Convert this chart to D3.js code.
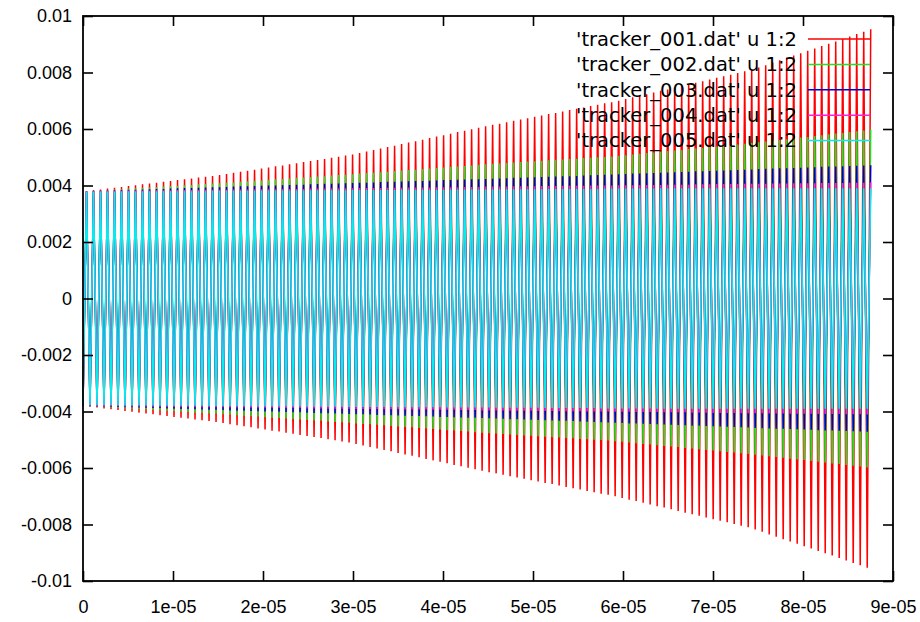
<!DOCTYPE html>
<html>
<head>
<meta charset="utf-8">
<script src="https://cdn.jsdelivr.net/npm/d3@7/dist/d3.min.js"></script>
<style>
  body { margin: 0; background: #fff; }
  .tick text { font-family: "Liberation Sans", Arial, sans-serif; font-size: 18px; fill: #000; }
  .legend text { font-family: "DejaVu Sans", sans-serif; font-size: 19.5px; fill: #000; }
</style>
</head>
<body>
<div id="chart"></div>
<script>
// peak amplitude of every oscillation cycle (units of 1e-4)
var amp001 = [
  38.0,38.3,38.6,38.9,39.2,39.5,39.8,40.1,40.4,40.7,41.0,41.3,41.6,41.9,42.2,42.5,42.8,43.1,43.4,43.7,
  44.1,44.5,44.9,45.2,45.6,46.0,46.4,46.8,47.1,47.5,47.9,48.3,48.7,49.0,49.4,49.8,50.2,50.6,51.0,
  51.5,52.0,52.6,53.1,53.6,54.1,54.7,55.2,55.7,56.2,56.8,57.3,57.8,58.3,58.9,59.4,59.9,60.4,61.0,
  61.5,61.9,62.4,62.9,63.4,63.8,64.3,64.8,65.3,65.7,66.2,66.7,67.2,67.6,68.1,68.6,69.1,69.5,70.0,
  70.6,71.2,71.7,72.3,72.9,73.5,74.0,74.6,75.2,75.8,76.4,76.9,77.5,78.1,78.7,79.2,79.8,80.4,81.0,
  81.8,82.6,83.5,84.3,85.2,86.0,86.8,87.7,88.5,89.4,90.2,91.0,91.9,92.7,93.6,94.4,95.3
];
var amp002 = [
  38.0,38.1,38.3,38.4,38.6,38.7,38.9,39.0,39.2,39.3,39.5,39.6,39.8,39.9,40.1,40.2,40.4,40.5,40.7,40.8,
  41.0,41.1,41.3,41.5,41.7,41.8,42.0,42.2,42.3,42.5,42.7,42.8,43.0,43.2,43.3,43.5,43.7,43.8,44.0,
  44.2,44.4,44.5,44.7,44.9,45.1,45.3,45.5,45.6,45.8,46.0,46.2,46.4,46.6,46.7,46.9,47.1,47.3,47.5,
  47.7,47.8,48.0,48.1,48.3,48.5,48.6,48.8,48.9,49.1,49.2,49.4,49.5,49.7,49.8,50.0,50.1,50.3,50.5,
  50.7,51.0,51.2,51.5,51.7,51.9,52.2,52.4,52.6,52.9,53.1,53.4,53.6,53.8,54.1,54.3,54.5,54.8,55.0,
  55.3,55.6,55.8,56.1,56.4,56.7,57.0,57.2,57.5,57.8,58.1,58.4,58.6,58.9,59.2,59.5,59.8
];
var amp003 = [
  38.0,38.1,38.2,38.2,38.3,38.4,38.5,38.5,38.6,38.7,38.8,38.8,38.9,39.0,39.1,39.1,39.2,39.3,39.4,39.4,
  39.5,39.6,39.7,39.7,39.8,39.9,40.0,40.0,40.1,40.2,40.3,40.3,40.4,40.5,40.6,40.6,40.7,40.8,40.9,
  41.0,41.0,41.1,41.2,41.3,41.3,41.4,41.5,41.6,41.6,41.7,41.8,41.9,41.9,42.0,42.1,42.2,42.2,42.3,
  42.4,42.5,42.6,42.7,42.7,42.8,42.9,43.0,43.1,43.2,43.3,43.3,43.4,43.5,43.6,43.7,43.8,43.9,44.0,
  44.1,44.2,44.2,44.3,44.4,44.5,44.6,44.7,44.8,44.9,45.0,45.0,45.1,45.2,45.3,45.4,45.5,45.6,45.7,
  45.8,45.9,46.0,46.1,46.1,46.2,46.3,46.4,46.5,46.6,46.7,46.7,46.8,46.9,47.0,47.1,47.2
];
var amp004 = [
  38.0,38.0,38.1,38.1,38.1,38.1,38.2,38.2,38.2,38.2,38.3,38.3,38.3,38.4,38.4,38.4,38.4,38.5,38.5,38.5,
  38.5,38.6,38.6,38.6,38.7,38.7,38.7,38.7,38.8,38.8,38.8,38.8,38.9,38.9,38.9,39.0,39.0,39.0,39.0,
  39.1,39.1,39.1,39.1,39.2,39.2,39.2,39.3,39.3,39.3,39.3,39.4,39.4,39.4,39.4,39.5,39.5,39.5,39.6,
  39.6,39.6,39.6,39.7,39.7,39.7,39.7,39.8,39.8,39.8,39.9,39.9,39.9,39.9,40.0,40.0,40.0,40.0,40.1,
  40.1,40.1,40.2,40.2,40.2,40.2,40.3,40.3,40.3,40.3,40.4,40.4,40.4,40.5,40.5,40.5,40.5,40.6,40.6,
  40.6,40.6,40.7,40.7,40.7,40.8,40.8,40.8,40.8,40.9,40.9,40.9,40.9,41.0,41.0,41.0,41.1
];
var amp005 = [
  37.8,37.8,37.8,37.8,37.8,37.9,37.9,37.9,37.9,37.9,37.9,38.0,38.0,38.0,38.0,38.0,38.0,38.0,38.1,38.1,
  38.1,38.1,38.1,38.1,38.1,38.2,38.2,38.2,38.2,38.2,38.2,38.2,38.3,38.3,38.3,38.3,38.3,38.3,38.4,
  38.4,38.4,38.4,38.4,38.4,38.4,38.5,38.5,38.5,38.5,38.5,38.5,38.5,38.6,38.6,38.6,38.6,38.6,38.6,
  38.6,38.7,38.7,38.7,38.7,38.7,38.7,38.7,38.8,38.8,38.8,38.8,38.8,38.8,38.8,38.8,38.9,38.9,38.9,
  38.9,38.9,38.9,38.9,38.9,39.0,39.0,39.0,39.0,39.0,39.0,39.0,39.0,39.0,39.0,39.0,39.0,39.0,39.0,
  39.0,39.0,39.0,39.0,39.0,39.0,39.0,39.0,39.0,39.0,39.0,39.0,39.0,39.0,39.0,39.0,39.0
];
var ampUnit = 1e-4;

// one oscillation period in seconds (stripe spacing on the time axis)
var period = 7.78e-7;

var seriesNames = [
  "'tracker_001.dat' u 1:2",
  "'tracker_002.dat' u 1:2",
  "'tracker_003.dat' u 1:2",
  "'tracker_004.dat' u 1:2",
  "'tracker_005.dat' u 1:2"
];
var seriesAmps = [amp001, amp002, amp003, amp004, amp005];
var seriesColors = ["#ff0000", "#22e022", "#0000d0", "#ff20d0", "#00f0f0"];

var xTicks = [0, 1e-5, 2e-5, 3e-5, 4e-5, 5e-5, 6e-5, 7e-5, 8e-5, 9e-5];
var xTickLabels = ["0", "1e-05", "2e-05", "3e-05", "4e-05", "5e-05", "6e-05", "7e-05", "8e-05", "9e-05"];
var yTicks = [-0.01, -0.008, -0.006, -0.004, -0.002, 0, 0.002, 0.004, 0.006, 0.008, 0.01];
var yTickLabels = ["-0.01", "-0.008", "-0.006", "-0.004", "-0.002", "0", "0.002", "0.004", "0.006", "0.008", "0.01"];

var svgWidth = 920;
var svgHeight = 622;
var margin = { top: 16, right: 27, bottom: 41, left: 83 };
var width = svgWidth - margin.left - margin.right;
var height = svgHeight - margin.top - margin.bottom;

var svg = d3.select("#chart")
  .append("svg")
  .attr("width", svgWidth)
  .attr("height", svgHeight);

var chartGroup = svg.append("g")
  .attr("transform", `translate(${margin.left}, ${margin.top})`);

var xScale = d3.scaleLinear().domain([0, 9e-5]).range([0, width]);
var yScale = d3.scaleLinear().domain([-0.01, 0.01]).range([height, 0]);

// each cycle: trough then crest
var seriesData = seriesAmps.map(function(amps) {
  var pts = [];
  amps.forEach(function(a, k) {
    pts.push([k * period, -a * ampUnit]);
    pts.push([(k + 0.5) * period, a * ampUnit]);
  });
  return pts;
});

var line = d3.line()
  .x(d => xScale(d[0]))
  .y(d => yScale(d[1]));

chartGroup.append("g")
  .selectAll("path")
  .data(seriesData)
  .enter()
  .append("path")
  .attr("d", line)
  .attr("fill", "none")
  .attr("stroke", (d, i) => seriesColors[i])
  .attr("stroke-width", 1.5);

// axes, ticks pointing inwards and mirrored
var xAxis = d3.axisBottom(xScale).tickValues(xTicks)
  .tickFormat((d, i) => xTickLabels[i]).tickSizeInner(-10).tickSizeOuter(0).tickPadding(19);
var yAxis = d3.axisLeft(yScale).tickValues(yTicks)
  .tickFormat((d, i) => yTickLabels[i]).tickSizeInner(-10).tickSizeOuter(0).tickPadding(11);
var xTop = d3.axisTop(xScale).tickValues(xTicks).tickFormat("").tickSizeInner(-10).tickSizeOuter(0);
var yRight = d3.axisRight(yScale).tickValues(yTicks).tickFormat("").tickSizeInner(-10).tickSizeOuter(0);

chartGroup.append("g").attr("transform", `translate(0, ${height})`).call(xAxis);
chartGroup.append("g").call(yAxis);
chartGroup.append("g").call(xTop);
chartGroup.append("g").attr("transform", `translate(${width}, 0)`).call(yRight);

chartGroup.selectAll(".domain").remove();
chartGroup.selectAll(".tick line").attr("stroke", "#000").attr("stroke-width", 1.6);

chartGroup.append("rect")
  .attr("width", width)
  .attr("height", height)
  .attr("fill", "none")
  .attr("stroke", "#000")
  .attr("stroke-width", 1.8);

// key
var legend = chartGroup.append("g").attr("class", "legend");
seriesNames.forEach(function(name, i) {
  var y = 23 + i * 25.4;
  legend.append("text")
    .attr("x", 714)
    .attr("y", y)
    .attr("dy", "0.35em")
    .attr("text-anchor", "end")
    .text(name);
  legend.append("line")
    .attr("x1", 725).attr("x2", 787)
    .attr("y1", y).attr("y2", y)
    .attr("stroke", seriesColors[i])
    .attr("stroke-width", 1.5);
});
</script>
</body>
</html>
